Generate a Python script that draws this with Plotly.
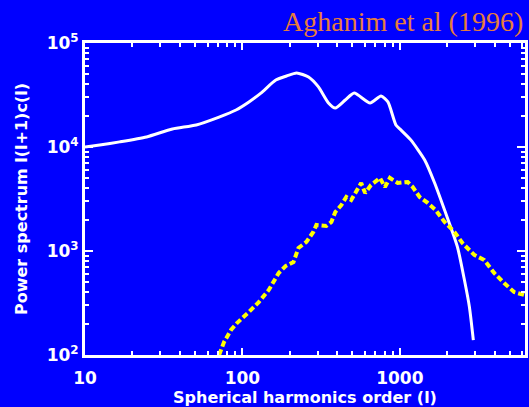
import plotly.graph_objects as go

# Multipole order l and power l(l+1)c(l) for the two spectra
l_cmb = [10, 12.4, 16.6, 24.6, 35.9, 50.9, 71.1, 91.1, 110, 131, 163, 191, 221,
         263, 304, 352, 389, 450, 513, 647, 759, 840, 944, 1015, 1173, 1438,
         1663, 1923, 2323, 2572, 2766, 2930]
p_cmb = [10000, 10450, 11200, 12500, 14900, 16300, 19400, 22700, 27100, 33000,
         44000, 48200, 51500, 47100, 37800, 26500, 23700, 28300, 33000, 26500,
         30900, 27100, 16300, 14600, 11700, 7500, 4510, 2480, 1090, 526, 290, 139]

l_sz = [71.1, 76.4, 84.6, 92.3, 110, 127, 147, 170, 188, 211, 227, 255, 282, 295,
        341, 367, 389, 425, 457, 491, 568, 602, 656, 748, 804, 865, 971, 1122,
        1208, 1337, 1502, 1687, 1923, 2224, 2496, 2972, 3436, 3973, 4595, 5318, 6150]
p_sz = [100, 133, 174, 203, 259, 323, 422, 614, 717, 784, 1069, 1222, 1524, 1778,
        1739, 1900, 2371, 2768, 3304, 3090, 4510, 3610, 4310, 5040, 4120, 5040,
        4510, 4610, 4120, 3300, 2900, 2480, 1900, 1524, 1194, 916, 818, 614, 492,
        403, 378]

x_tickvals = [10, 100, 1000]
x_ticktext = ["10", "100", "1000"]
y_tickvals = [100, 1000, 10000, 100000]
y_ticktext = ["10<sup>2</sup>", "10<sup>3</sup>", "10<sup>4</sup>", "10<sup>5</sup>"]

BG = "#0000ff"
FG = "white"
AXFONT = dict(family="DejaVu Sans", size=17, color=FG, weight="bold")
TITLEFONT = dict(family="DejaVu Sans", size=16, color=FG, weight="bold")

fig = go.Figure()
fig.add_trace(go.Scatter(x=l_cmb, y=p_cmb, mode="lines",
                         line=dict(color="white", width=3, shape="spline",
                                   smoothing=0.6),
                         showlegend=False))
fig.add_trace(go.Scatter(x=l_sz, y=p_sz, mode="lines",
                         line=dict(color="#ffff00", width=4, dash="6px,3px"),
                         showlegend=False))

axis_common = dict(
    type="log", showgrid=False, zeroline=False,
    showline=True, linecolor=FG, linewidth=3, mirror="allticks",
    ticks="inside", tickcolor=FG, tickwidth=2,
    minor=dict(ticks="inside", ticklen=4, tickcolor=FG, tickwidth=2,
               dtick="D1", showgrid=False),
    tickfont=AXFONT,
)

fig.update_xaxes(**axis_common, range=[1, 3.795], ticklen=7,
                 tickvals=x_tickvals, ticktext=x_ticktext, ticklabelstandoff=6,
                 title=dict(text="Spherical harmonics order (l)",
                            font=TITLEFONT, standoff=4))
fig.update_yaxes(**axis_common, range=[2, 5], ticklen=8,
                 tickvals=y_tickvals, ticktext=y_ticktext,
                 title=dict(text="Power spectrum l(l+1)c(l)",
                            font=TITLEFONT, standoff=16))

fig.add_annotation(text="Aghanim et al (1996)", xref="paper", yref="paper",
                   x=0.445, y=1.07, xanchor="left", yanchor="middle",
                   showarrow=False,
                   font=dict(family="Liberation Serif", size=28, color="#e57d3c"))

fig.update_layout(
    width=529, height=407,
    margin=dict(l=85, r=1, t=43, b=52),
    paper_bgcolor=BG, plot_bgcolor=BG,
)

fig.write_html("out.html")
